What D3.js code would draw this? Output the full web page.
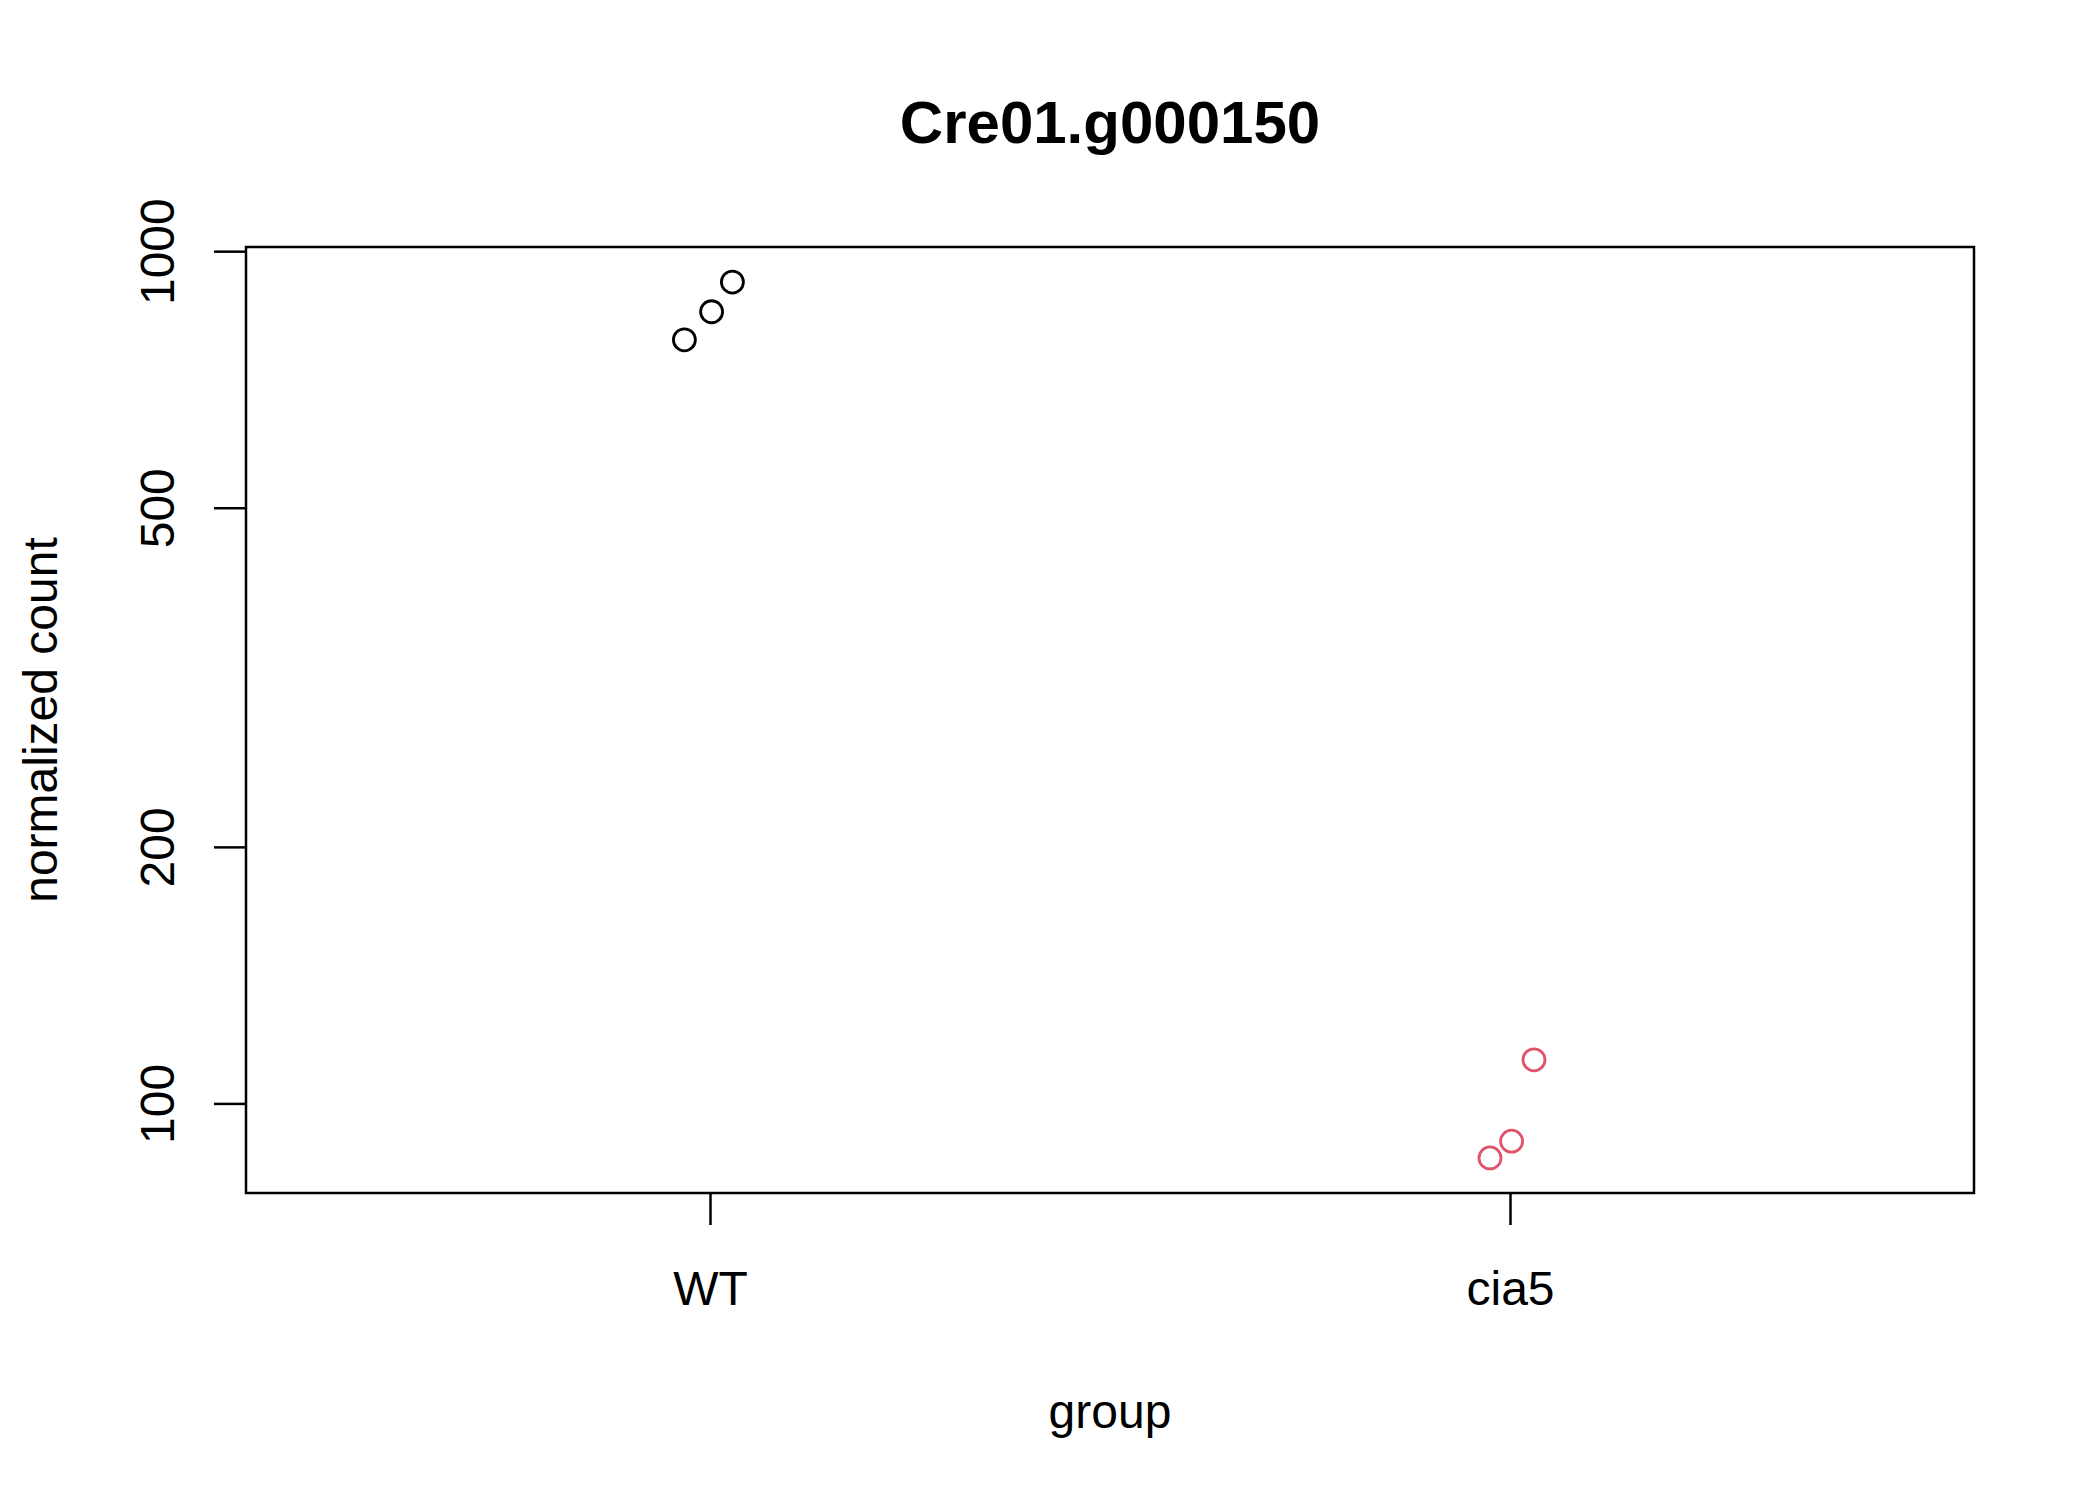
<!DOCTYPE html>
<html><head><meta charset="utf-8">
<script src="https://cdn.jsdelivr.net/npm/d3@7"></script>
<style>body{margin:0;background:#fff}</style></head>
<body><svg id="c" width="2100" height="1500"></svg>
<script>
const groups = ["WT","cia5"];
const colors = ["#000000","#DF536B"];
const wtValues = [787, 849, 920];
const cia5Values = [86.3, 90.3, 112.5];
const jitter = [[-0.032, 0.002, 0.028],[-0.025, 0.002, 0.030]];
const yTicks = [100, 200, 500, 1000];
const title = "Cre01.g000150";

const svg = d3.select("#c");
const L=246,R=1974,T=247,B=1193;
const font="Liberation Sans, Arial, Helvetica, sans-serif";
const all=[...wtValues,...cia5Values];
const lmin=Math.log10(d3.min(all)), lmax=Math.log10(d3.max(all)), ext=(lmax-lmin)*0.04;
const y=d3.scaleLog().domain([10**(lmin-ext),10**(lmax+ext)]).range([B,T]);
const x=d3.scaleLinear().domain([0.42,2.58]).range([L,R]);

svg.append("rect").attr("x",L).attr("y",T).attr("width",R-L).attr("height",B-T)
  .attr("fill","none").attr("stroke","#000").attr("stroke-width",2.5);

const ya=svg.append("g").attr("transform",`translate(${L},0)`)
  .call(d3.axisLeft(y).tickValues(yTicks).tickFormat(d3.format("d")).tickSize(32).tickPadding(0));
ya.select(".domain").remove();
ya.selectAll(".tick line").attr("stroke-width",2.5);
ya.selectAll(".tick text").attr("font-size",48).attr("font-family",font).attr("fill","#000")
  .attr("transform","rotate(-90)").attr("x",0).attr("y",-72).attr("dy",0).attr("text-anchor","middle");

const xa=svg.append("g").attr("transform",`translate(0,${B})`)
  .call(d3.axisBottom(x).tickValues([1,2]).tickFormat((d,i)=>groups[i]).tickSize(32).tickPadding(0));
xa.select(".domain").remove();
xa.selectAll(".tick line").attr("stroke-width",2.5);
xa.selectAll(".tick text").attr("font-size",48).attr("font-family",font).attr("fill","#000")
  .attr("y",112).attr("dy",0);

[wtValues,cia5Values].forEach((vals,g)=>{
  svg.selectAll(null).data(vals).enter().append("circle")
    .attr("cx",(d,i)=>x(g+1+jitter[g][i])).attr("cy",d=>y(d)).attr("r",11)
    .attr("fill","none").attr("stroke",colors[g]).attr("stroke-width",2.8);
});

svg.append("text").attr("x",(L+R)/2).attr("y",143).attr("text-anchor","middle")
  .attr("font-family",font).attr("font-weight","bold").attr("font-size",60).text(title);
svg.append("text").attr("x",(L+R)/2).attr("y",1428).attr("text-anchor","middle")
  .attr("font-family",font).attr("font-size",48).text("group");
svg.append("text").attr("transform",`translate(57,${(T+B)/2}) rotate(-90)`).attr("text-anchor","middle")
  .attr("font-family",font).attr("font-size",48).text("normalized count");
</script></body></html>
